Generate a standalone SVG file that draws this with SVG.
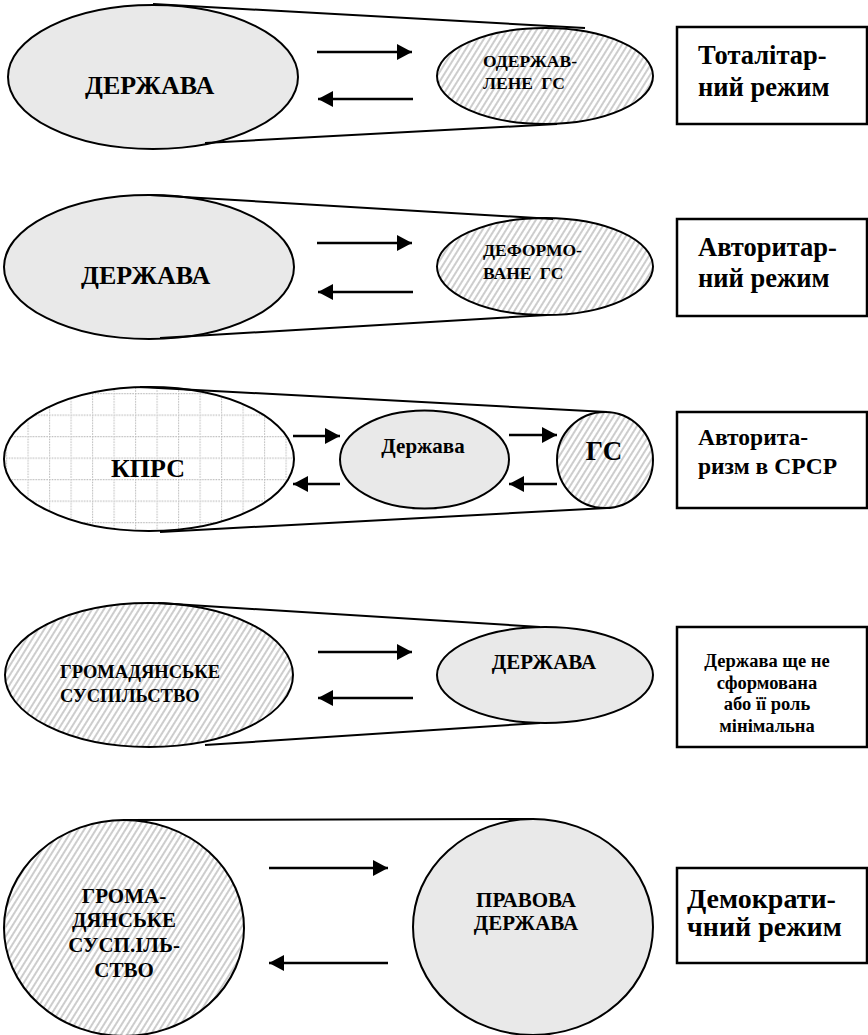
<svg xmlns="http://www.w3.org/2000/svg" width="868" height="1035" viewBox="0 0 868 1035" font-family="'Liberation Serif', 'Times New Roman', serif" font-weight="bold">
<style>
.el{stroke:#000;stroke-width:2}
.gray{fill:#e9e9e9}
.hatch{fill:url(#hatch)}
.grid{fill:url(#grid)}
.box{fill:#fff;stroke:#000;stroke-width:2.5}
.tl{stroke:#000;stroke-width:2;fill:none}
.arr{stroke:#000;stroke-width:2.5;fill:none;marker-end:url(#ah)}
.big{font-size:26px}
.sm{font-size:17.5px}
.bx{font-size:26.5px}
.bs{font-size:18.5px}
.md{font-size:21px}
</style>
<defs>
<pattern id="hatch" patternUnits="userSpaceOnUse" width="5" height="5" patternTransform="rotate(32)">
<rect width="5" height="5" fill="#fff"/>
<rect width="2" height="5" fill="#cdcdcd"/>
</pattern>
<pattern id="grid" patternUnits="userSpaceOnUse" width="21.5" height="21.5" x="6" y="6">
<rect width="21.5" height="21.5" fill="#fff"/>
<line x1="0" y1="0.5" x2="21.5" y2="0.5" stroke="#bdbdbd" stroke-width="1.2" stroke-dasharray="1.5 1.2"/>
<line x1="0.5" y1="0" x2="0.5" y2="21.5" stroke="#bdbdbd" stroke-width="1.2" stroke-dasharray="1.5 1.2"/>
</pattern>
<marker id="ah" markerUnits="userSpaceOnUse" markerWidth="15" markerHeight="16" refX="15" refY="8" orient="auto">
<path d="M0,0 L15,8 L0,16 z" fill="#000"/>
</marker>
</defs>

<!-- Panel 1 -->
<g id="p1-state"><ellipse class="el gray" cx="153" cy="77" rx="145" ry="72"/><text class="big" x="85" y="94">ДЕРЖАВА</text></g>
<g id="p1-gs"><ellipse class="el hatch" cx="545" cy="76" rx="108" ry="48"/><text class="sm" x="483" y="67">ОДЕРЖАВ-</text><text class="sm" x="483" y="89" word-spacing="4">ЛЕНЕ ГС</text></g>
<g id="p1-box"><rect class="box" x="677" y="27" width="190" height="97"/><text class="bx" x="698" y="64">Тоталітар-</text><text class="bx" x="698" y="96">ний режим</text></g>

<!-- Panel 2 -->
<g id="p2-state"><ellipse class="el gray" cx="149" cy="267" rx="145" ry="72"/><text class="big" x="81" y="284">ДЕРЖАВА</text></g>
<g id="p2-gs"><ellipse class="el hatch" cx="545" cy="266.5" rx="108" ry="48.5"/><text class="sm" x="483" y="256">ДЕФОРМО-</text><text class="sm" x="483" y="279" word-spacing="4">ВАНЕ ГС</text></g>
<g id="p2-box"><rect class="box" x="677" y="219" width="190" height="97"/><text class="bx" x="698" y="256">Авторитар-</text><text class="bx" x="698" y="287">ний режим</text></g>

<!-- Panel 3 -->
<g id="p3-kprs"><ellipse class="el grid" cx="149" cy="459" rx="145" ry="72"/><text class="big" x="111" y="477">КПРС</text></g>
<g id="p3-state"><ellipse class="el gray" cx="424.5" cy="459.5" rx="84.5" ry="49"/><text x="423" y="453" font-size="21" text-anchor="middle">Держава</text></g>
<g id="p3-gs"><ellipse class="el hatch" cx="605" cy="460" rx="48" ry="48"/><text x="604" y="460" font-size="27" text-anchor="middle">ГС</text></g>
<g id="p3-box"><rect class="box" x="677" y="412" width="190" height="96"/><text x="698" y="445" font-size="23.5">Авторита-</text><text x="698" y="474" font-size="23.5">ризм в СРСР</text></g>

<!-- Panel 4 -->
<g id="p4-gs"><ellipse class="el hatch" cx="149" cy="675" rx="144" ry="72"/><text x="60" y="678" font-size="18.5">ГРОМАДЯНСЬКЕ</text><text x="60" y="702" font-size="18.5">СУСПІЛЬСТВО</text></g>
<g id="p4-state"><ellipse class="el gray" cx="545" cy="675" rx="108" ry="48"/><text x="544" y="669" font-size="21" text-anchor="middle">ДЕРЖАВА</text></g>
<g id="p4-box"><rect class="box" x="677" y="627" width="190" height="120"/>
<text class="bs" x="767" y="667" text-anchor="middle">Держава ще не</text>
<text class="bs" x="767" y="688.5" text-anchor="middle">сформована</text>
<text class="bs" x="767" y="710" text-anchor="middle">або її роль</text>
<text class="bs" x="767" y="731.5" text-anchor="middle">мінімальна</text></g>

<!-- Panel 5 -->
<g id="p5-gs"><ellipse class="el hatch" cx="124" cy="928" rx="120" ry="108"/>
<text class="md" x="124" y="903" text-anchor="middle">ГРОМА-</text>
<text class="md" x="124" y="927" text-anchor="middle">ДЯНСЬКЕ</text>
<text class="md" x="124" y="952" text-anchor="middle">СУСП.ІЛЬ-</text>
<text class="md" x="124" y="977" text-anchor="middle">СТВО</text></g>
<g id="p5-state"><ellipse class="el gray" cx="533" cy="927" rx="120" ry="108"/>
<text class="md" x="526" y="907" text-anchor="middle">ПРАВОВА</text>
<text class="md" x="526" y="930" text-anchor="middle">ДЕРЖАВА</text></g>
<g id="p5-box"><rect class="box" x="677" y="868" width="190" height="95"/><text x="687" y="908" font-size="28">Демократи-</text><text x="687" y="936" font-size="28">чний режим</text></g>

<g id="connectors">
<line class="tl" x1="153" y1="4" x2="585" y2="28"/>
<line class="tl" x1="205" y1="143" x2="557" y2="124"/>
<line class="tl" x1="150" y1="195" x2="553" y2="219"/>
<line class="tl" x1="160" y1="338" x2="547" y2="315"/>
<line class="tl" x1="140" y1="387" x2="607" y2="412"/>
<line class="tl" x1="160" y1="532" x2="607" y2="508"/>
<line class="tl" x1="158" y1="603" x2="540" y2="627"/>
<line class="tl" x1="205" y1="745" x2="540" y2="723"/>
<line class="tl" x1="124" y1="820" x2="533" y2="819"/>
<line class="arr" x1="317" y1="52" x2="412" y2="52"/>
<line class="arr" x1="413" y1="99" x2="318" y2="99"/>
<line class="arr" x1="317" y1="243" x2="412" y2="243"/>
<line class="arr" x1="413" y1="292" x2="318" y2="292"/>
<line class="arr" x1="293" y1="436" x2="340" y2="436"/>
<line class="arr" x1="340" y1="484" x2="293" y2="484"/>
<line class="arr" x1="509" y1="435" x2="557" y2="435"/>
<line class="arr" x1="557" y1="484" x2="509" y2="484"/>
<line class="arr" x1="318" y1="652" x2="412" y2="652"/>
<line class="arr" x1="413" y1="698" x2="318" y2="698"/>
<line class="arr" x1="269" y1="868" x2="388" y2="868"/>
<line class="arr" x1="388" y1="963" x2="269" y2="963"/>
</g>
</svg>
